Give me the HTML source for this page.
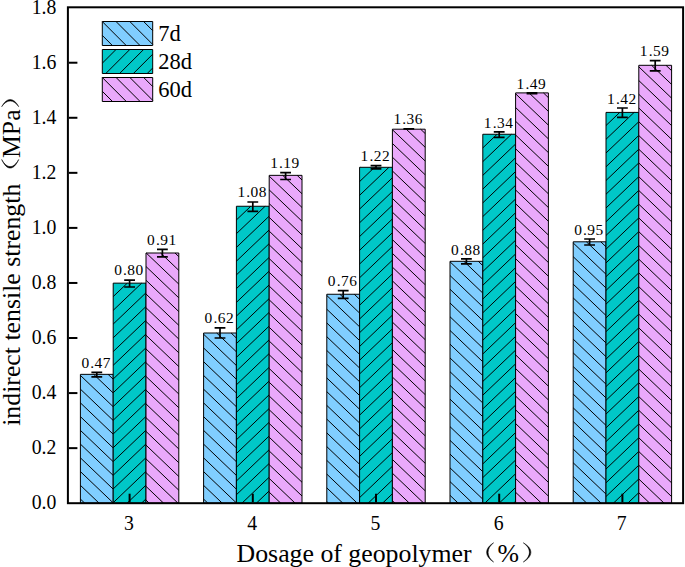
<!DOCTYPE html>
<html><head><meta charset="utf-8"><style>
html,body{margin:0;padding:0;background:#fff;overflow:hidden}
svg{display:block}
text{font-family:"Liberation Serif",serif;fill:#000}
</style></head><body>
<svg width="685" height="567" viewBox="0 0 685 567">
<rect x="80.40" y="374.35" width="32.80" height="128.85" fill="#80CEFF"/>
<path d="M108.09 374.35L113.20 379.23M93.70 374.35L113.20 392.97M80.40 375.39L113.20 406.71M80.40 389.13L113.20 420.45M80.40 402.87L113.20 434.19M80.40 416.61L113.20 447.93M80.40 430.35L113.20 461.67M80.40 444.09L113.20 475.41M80.40 457.83L113.20 489.15M80.40 471.57L113.20 502.89M80.40 485.31L99.14 503.20M80.40 499.05L84.75 503.20" stroke="#000" stroke-width="1.0" fill="none"/>
<rect x="80.40" y="374.35" width="32.80" height="128.85" fill="none" stroke="#000" stroke-width="1.0" stroke-linejoin="round"/>
<rect x="113.20" y="283.15" width="32.80" height="220.05" fill="#00C8C8"/>
<path d="M113.20 296.60L127.29 283.15M113.20 310.34L141.68 283.15M113.20 324.08L146.00 292.76M113.20 337.82L146.00 306.50M113.20 351.56L146.00 320.24M113.20 365.30L146.00 333.98M113.20 379.04L146.00 347.72M113.20 392.78L146.00 361.46M113.20 406.52L146.00 375.20M113.20 420.26L146.00 388.94M113.20 434.00L146.00 402.68M113.20 447.74L146.00 416.42M113.20 461.48L146.00 430.16M113.20 475.22L146.00 443.90M113.20 488.96L146.00 457.64M113.20 502.70L146.00 471.38M127.07 503.20L146.00 485.12M141.46 503.20L146.00 498.86" stroke="#000" stroke-width="1.0" fill="none"/>
<rect x="113.20" y="283.15" width="32.80" height="220.05" fill="none" stroke="#000" stroke-width="1.0" stroke-linejoin="round"/>
<rect x="146.00" y="253.00" width="32.80" height="250.20" fill="#EAA9FB"/>
<path d="M175.01 253.00L178.80 256.62M160.62 253.00L178.80 270.36M146.23 253.00L178.80 284.10M146.00 266.52L178.80 297.84M146.00 280.26L178.80 311.58M146.00 294.00L178.80 325.32M146.00 307.74L178.80 339.06M146.00 321.48L178.80 352.80M146.00 335.22L178.80 366.54M146.00 348.96L178.80 380.28M146.00 362.70L178.80 394.02M146.00 376.44L178.80 407.76M146.00 390.18L178.80 421.50M146.00 403.92L178.80 435.24M146.00 417.66L178.80 448.98M146.00 431.40L178.80 462.72M146.00 445.14L178.80 476.46M146.00 458.88L178.80 490.20M146.00 472.62L178.03 503.20M146.00 486.36L163.64 503.20M146.00 500.10L149.25 503.20" stroke="#000" stroke-width="1.0" fill="none"/>
<rect x="146.00" y="253.00" width="32.80" height="250.20" fill="none" stroke="#000" stroke-width="1.0" stroke-linejoin="round"/>
<rect x="203.60" y="333.00" width="32.80" height="170.20" fill="#80CEFF"/>
<path d="M231.10 333.00L236.40 338.06M216.71 333.00L236.40 351.80M203.60 334.22L236.40 365.54M203.60 347.96L236.40 379.28M203.60 361.70L236.40 393.02M203.60 375.44L236.40 406.76M203.60 389.18L236.40 420.50M203.60 402.92L236.40 434.24M203.60 416.66L236.40 447.98M203.60 430.40L236.40 461.72M203.60 444.14L236.40 475.46M203.60 457.88L236.40 489.20M203.60 471.62L236.40 502.94M203.60 485.36L222.28 503.20M203.60 499.10L207.89 503.20" stroke="#000" stroke-width="1.0" fill="none"/>
<rect x="203.60" y="333.00" width="32.80" height="170.20" fill="none" stroke="#000" stroke-width="1.0" stroke-linejoin="round"/>
<rect x="236.40" y="206.25" width="32.80" height="296.95" fill="#00C8C8"/>
<path d="M236.40 219.96L250.76 206.25M236.40 233.70L265.15 206.25M236.40 247.44L269.20 216.12M236.40 261.18L269.20 229.86M236.40 274.92L269.20 243.60M236.40 288.66L269.20 257.34M236.40 302.40L269.20 271.08M236.40 316.14L269.20 284.82M236.40 329.88L269.20 298.56M236.40 343.62L269.20 312.30M236.40 357.36L269.20 326.04M236.40 371.10L269.20 339.78M236.40 384.84L269.20 353.52M236.40 398.58L269.20 367.26M236.40 412.32L269.20 381.00M236.40 426.06L269.20 394.74M236.40 439.80L269.20 408.48M236.40 453.54L269.20 422.22M236.40 467.28L269.20 435.96M236.40 481.02L269.20 449.70M236.40 494.76L269.20 463.44M241.95 503.20L269.20 477.18M256.34 503.20L269.20 490.92" stroke="#000" stroke-width="1.0" fill="none"/>
<rect x="236.40" y="206.25" width="32.80" height="296.95" fill="none" stroke="#000" stroke-width="1.0" stroke-linejoin="round"/>
<rect x="269.20" y="175.35" width="32.80" height="327.85" fill="#EAA9FB"/>
<path d="M297.15 175.35L302.00 179.98M282.76 175.35L302.00 193.72M269.20 176.14L302.00 207.46M269.20 189.88L302.00 221.20M269.20 203.62L302.00 234.94M269.20 217.36L302.00 248.68M269.20 231.10L302.00 262.42M269.20 244.84L302.00 276.16M269.20 258.58L302.00 289.90M269.20 272.32L302.00 303.64M269.20 286.06L302.00 317.38M269.20 299.80L302.00 331.12M269.20 313.54L302.00 344.86M269.20 327.28L302.00 358.60M269.20 341.02L302.00 372.34M269.20 354.76L302.00 386.08M269.20 368.50L302.00 399.82M269.20 382.24L302.00 413.56M269.20 395.98L302.00 427.30M269.20 409.72L302.00 441.04M269.20 423.46L302.00 454.78M269.20 437.20L302.00 468.52M269.20 450.94L302.00 482.26M269.20 464.68L302.00 496.00M269.20 478.42L295.15 503.20M269.20 492.16L280.76 503.20" stroke="#000" stroke-width="1.0" fill="none"/>
<rect x="269.20" y="175.35" width="32.80" height="327.85" fill="none" stroke="#000" stroke-width="1.0" stroke-linejoin="round"/>
<rect x="326.80" y="294.25" width="32.80" height="208.95" fill="#80CEFF"/>
<path d="M354.27 294.25L359.60 299.34M339.88 294.25L359.60 313.08M326.80 295.50L359.60 326.82M326.80 309.24L359.60 340.56M326.80 322.98L359.60 354.30M326.80 336.72L359.60 368.04M326.80 350.46L359.60 381.78M326.80 364.20L359.60 395.52M326.80 377.94L359.60 409.26M326.80 391.68L359.60 423.00M326.80 405.42L359.60 436.74M326.80 419.16L359.60 450.48M326.80 432.90L359.60 464.22M326.80 446.64L359.60 477.96M326.80 460.38L359.60 491.70M326.80 474.12L357.26 503.20M326.80 487.86L342.87 503.20M326.80 501.60L328.48 503.20" stroke="#000" stroke-width="1.0" fill="none"/>
<rect x="326.80" y="294.25" width="32.80" height="208.95" fill="none" stroke="#000" stroke-width="1.0" stroke-linejoin="round"/>
<rect x="359.60" y="167.30" width="32.80" height="335.90" fill="#00C8C8"/>
<path d="M359.60 167.84L360.17 167.30M359.60 181.58L374.56 167.30M359.60 195.32L388.95 167.30M359.60 209.06L392.40 177.74M359.60 222.80L392.40 191.48M359.60 236.54L392.40 205.22M359.60 250.28L392.40 218.96M359.60 264.02L392.40 232.70M359.60 277.76L392.40 246.44M359.60 291.50L392.40 260.18M359.60 305.24L392.40 273.92M359.60 318.98L392.40 287.66M359.60 332.72L392.40 301.40M359.60 346.46L392.40 315.14M359.60 360.20L392.40 328.88M359.60 373.94L392.40 342.62M359.60 387.68L392.40 356.36M359.60 401.42L392.40 370.10M359.60 415.16L392.40 383.84M359.60 428.90L392.40 397.58M359.60 442.64L392.40 411.32M359.60 456.38L392.40 425.06M359.60 470.12L392.40 438.80M359.60 483.86L392.40 452.54M359.60 497.60L392.40 466.28M368.13 503.20L392.40 480.02M382.52 503.20L392.40 493.76" stroke="#000" stroke-width="1.0" fill="none"/>
<rect x="359.60" y="167.30" width="32.80" height="335.90" fill="none" stroke="#000" stroke-width="1.0" stroke-linejoin="round"/>
<rect x="392.40" y="129.20" width="32.80" height="374.00" fill="#EAA9FB"/>
<path d="M420.64 129.20L425.20 133.56M406.25 129.20L425.20 147.30M392.40 129.72L425.20 161.04M392.40 143.46L425.20 174.78M392.40 157.20L425.20 188.52M392.40 170.94L425.20 202.26M392.40 184.68L425.20 216.00M392.40 198.42L425.20 229.74M392.40 212.16L425.20 243.48M392.40 225.90L425.20 257.22M392.40 239.64L425.20 270.96M392.40 253.38L425.20 284.70M392.40 267.12L425.20 298.44M392.40 280.86L425.20 312.18M392.40 294.60L425.20 325.92M392.40 308.34L425.20 339.66M392.40 322.08L425.20 353.40M392.40 335.82L425.20 367.14M392.40 349.56L425.20 380.88M392.40 363.30L425.20 394.62M392.40 377.04L425.20 408.36M392.40 390.78L425.20 422.10M392.40 404.52L425.20 435.84M392.40 418.26L425.20 449.58M392.40 432.00L425.20 463.32M392.40 445.74L425.20 477.06M392.40 459.48L425.20 490.80M392.40 473.22L423.80 503.20M392.40 486.96L409.41 503.20M392.40 500.70L395.02 503.20" stroke="#000" stroke-width="1.0" fill="none"/>
<rect x="392.40" y="129.20" width="32.80" height="374.00" fill="none" stroke="#000" stroke-width="1.0" stroke-linejoin="round"/>
<rect x="450.00" y="261.30" width="32.80" height="241.90" fill="#80CEFF"/>
<path d="M478.29 261.30L482.80 265.61M463.90 261.30L482.80 279.35M450.00 261.77L482.80 293.09M450.00 275.51L482.80 306.83M450.00 289.25L482.80 320.57M450.00 302.99L482.80 334.31M450.00 316.73L482.80 348.05M450.00 330.47L482.80 361.79M450.00 344.21L482.80 375.53M450.00 357.95L482.80 389.27M450.00 371.69L482.80 403.01M450.00 385.43L482.80 416.75M450.00 399.17L482.80 430.49M450.00 412.91L482.80 444.23M450.00 426.65L482.80 457.97M450.00 440.39L482.80 471.71M450.00 454.13L482.80 485.45M450.00 467.87L482.80 499.19M450.00 481.61L472.61 503.20M450.00 495.35L458.22 503.20" stroke="#000" stroke-width="1.0" fill="none"/>
<rect x="450.00" y="261.30" width="32.80" height="241.90" fill="none" stroke="#000" stroke-width="1.0" stroke-linejoin="round"/>
<rect x="482.80" y="134.25" width="32.80" height="368.95" fill="#00C8C8"/>
<path d="M482.80 147.86L497.05 134.25M482.80 161.60L511.44 134.25M482.80 175.34L515.60 144.02M482.80 189.08L515.60 157.76M482.80 202.82L515.60 171.50M482.80 216.56L515.60 185.24M482.80 230.30L515.60 198.98M482.80 244.04L515.60 212.72M482.80 257.78L515.60 226.46M482.80 271.52L515.60 240.20M482.80 285.26L515.60 253.94M482.80 299.00L515.60 267.68M482.80 312.74L515.60 281.42M482.80 326.48L515.60 295.16M482.80 340.22L515.60 308.90M482.80 353.96L515.60 322.64M482.80 367.70L515.60 336.38M482.80 381.44L515.60 350.12M482.80 395.18L515.60 363.86M482.80 408.92L515.60 377.60M482.80 422.66L515.60 391.34M482.80 436.40L515.60 405.08M482.80 450.14L515.60 418.82M482.80 463.88L515.60 432.56M482.80 477.62L515.60 446.30M482.80 491.36L515.60 460.04M484.79 503.20L515.60 473.78M499.18 503.20L515.60 487.52M513.57 503.20L515.60 501.26" stroke="#000" stroke-width="1.0" fill="none"/>
<rect x="482.80" y="134.25" width="32.80" height="368.95" fill="none" stroke="#000" stroke-width="1.0" stroke-linejoin="round"/>
<rect x="515.60" y="92.90" width="32.80" height="410.30" fill="#EAA9FB"/>
<path d="M543.44 92.90L548.40 97.64M529.05 92.90L548.40 111.38M515.60 93.80L548.40 125.12M515.60 107.54L548.40 138.86M515.60 121.28L548.40 152.60M515.60 135.02L548.40 166.34M515.60 148.76L548.40 180.08M515.60 162.50L548.40 193.82M515.60 176.24L548.40 207.56M515.60 189.98L548.40 221.30M515.60 203.72L548.40 235.04M515.60 217.46L548.40 248.78M515.60 231.20L548.40 262.52M515.60 244.94L548.40 276.26M515.60 258.68L548.40 290.00M515.60 272.42L548.40 303.74M515.60 286.16L548.40 317.48M515.60 299.90L548.40 331.22M515.60 313.64L548.40 344.96M515.60 327.38L548.40 358.70M515.60 341.12L548.40 372.44M515.60 354.86L548.40 386.18M515.60 368.60L548.40 399.92M515.60 382.34L548.40 413.66M515.60 396.08L548.40 427.40M515.60 409.82L548.40 441.14M515.60 423.56L548.40 454.88M515.60 437.30L548.40 468.62M515.60 451.04L548.40 482.36M515.60 464.78L548.40 496.10M515.60 478.52L541.45 503.20M515.60 492.26L527.06 503.20" stroke="#000" stroke-width="1.0" fill="none"/>
<rect x="515.60" y="92.90" width="32.80" height="410.30" fill="none" stroke="#000" stroke-width="1.0" stroke-linejoin="round"/>
<rect x="573.20" y="241.80" width="32.80" height="261.40" fill="#80CEFF"/>
<path d="M600.79 241.80L606.00 246.78M586.40 241.80L606.00 260.52M573.20 242.94L606.00 274.26M573.20 256.68L606.00 288.00M573.20 270.42L606.00 301.74M573.20 284.16L606.00 315.48M573.20 297.90L606.00 329.22M573.20 311.64L606.00 342.96M573.20 325.38L606.00 356.70M573.20 339.12L606.00 370.44M573.20 352.86L606.00 384.18M573.20 366.60L606.00 397.92M573.20 380.34L606.00 411.66M573.20 394.08L606.00 425.40M573.20 407.82L606.00 439.14M573.20 421.56L606.00 452.88M573.20 435.30L606.00 466.62M573.20 449.04L606.00 480.36M573.20 462.78L606.00 494.10M573.20 476.52L601.14 503.20M573.20 490.26L586.75 503.20" stroke="#000" stroke-width="1.0" fill="none"/>
<rect x="573.20" y="241.80" width="32.80" height="261.40" fill="none" stroke="#000" stroke-width="1.0" stroke-linejoin="round"/>
<rect x="606.00" y="112.40" width="32.80" height="390.80" fill="#00C8C8"/>
<path d="M606.00 125.53L619.75 112.40M606.00 139.27L634.14 112.40M606.00 153.01L638.80 121.69M606.00 166.75L638.80 135.43M606.00 180.49L638.80 149.17M606.00 194.23L638.80 162.91M606.00 207.97L638.80 176.65M606.00 221.71L638.80 190.39M606.00 235.45L638.80 204.13M606.00 249.19L638.80 217.87M606.00 262.93L638.80 231.61M606.00 276.67L638.80 245.35M606.00 290.41L638.80 259.09M606.00 304.15L638.80 272.83M606.00 317.89L638.80 286.57M606.00 331.63L638.80 300.31M606.00 345.37L638.80 314.05M606.00 359.11L638.80 327.79M606.00 372.85L638.80 341.53M606.00 386.59L638.80 355.27M606.00 400.33L638.80 369.01M606.00 414.07L638.80 382.75M606.00 427.81L638.80 396.49M606.00 441.55L638.80 410.23M606.00 455.29L638.80 423.97M606.00 469.03L638.80 437.71M606.00 482.77L638.80 451.45M606.00 496.51L638.80 465.19M613.38 503.20L638.80 478.93M627.77 503.20L638.80 492.67" stroke="#000" stroke-width="1.0" fill="none"/>
<rect x="606.00" y="112.40" width="32.80" height="390.80" fill="none" stroke="#000" stroke-width="1.0" stroke-linejoin="round"/>
<rect x="638.80" y="65.30" width="32.80" height="437.90" fill="#EAA9FB"/>
<path d="M665.99 65.30L671.60 70.66M651.60 65.30L671.60 84.40M638.80 66.82L671.60 98.14M638.80 80.56L671.60 111.88M638.80 94.30L671.60 125.62M638.80 108.04L671.60 139.36M638.80 121.78L671.60 153.10M638.80 135.52L671.60 166.84M638.80 149.26L671.60 180.58M638.80 163.00L671.60 194.32M638.80 176.74L671.60 208.06M638.80 190.48L671.60 221.80M638.80 204.22L671.60 235.54M638.80 217.96L671.60 249.28M638.80 231.70L671.60 263.02M638.80 245.44L671.60 276.76M638.80 259.18L671.60 290.50M638.80 272.92L671.60 304.24M638.80 286.66L671.60 317.98M638.80 300.40L671.60 331.72M638.80 314.14L671.60 345.46M638.80 327.88L671.60 359.20M638.80 341.62L671.60 372.94M638.80 355.36L671.60 386.68M638.80 369.10L671.60 400.42M638.80 382.84L671.60 414.16M638.80 396.58L671.60 427.90M638.80 410.32L671.60 441.64M638.80 424.06L671.60 455.38M638.80 437.80L671.60 469.12M638.80 451.54L671.60 482.86M638.80 465.28L671.60 496.60M638.80 479.02L664.12 503.20M638.80 492.76L649.73 503.20" stroke="#000" stroke-width="1.0" fill="none"/>
<rect x="638.80" y="65.30" width="32.80" height="437.90" fill="none" stroke="#000" stroke-width="1.0" stroke-linejoin="round"/>
<path d="M96.80 372.30 V376.80 M91.40 372.30 H102.20 M91.40 376.80 H102.20" stroke="#000" stroke-width="1.7" fill="none"/>
<path d="M129.60 280.10 V287.00 M124.20 280.10 H135.00 M124.20 287.00 H135.00" stroke="#000" stroke-width="1.7" fill="none"/>
<path d="M162.40 249.30 V256.90 M157.00 249.30 H167.80 M157.00 256.90 H167.80" stroke="#000" stroke-width="1.7" fill="none"/>
<path d="M220.00 327.80 V338.00 M214.60 327.80 H225.40 M214.60 338.00 H225.40" stroke="#000" stroke-width="1.7" fill="none"/>
<path d="M252.80 202.00 V211.40 M247.40 202.00 H258.20 M247.40 211.40 H258.20" stroke="#000" stroke-width="1.7" fill="none"/>
<path d="M285.60 172.60 V179.50 M280.20 172.60 H291.00 M280.20 179.50 H291.00" stroke="#000" stroke-width="1.7" fill="none"/>
<path d="M343.20 290.70 V298.40 M337.80 290.70 H348.60 M337.80 298.40 H348.60" stroke="#000" stroke-width="1.7" fill="none"/>
<path d="M376.00 165.65 V168.85 M370.60 165.65 H381.40 M370.60 168.85 H381.40" stroke="#000" stroke-width="1.7" fill="none"/>
<path d="M408.80 128.90 V128.90 M403.40 128.90 H414.20 M403.40 128.90 H414.20" stroke="#000" stroke-width="1.7" fill="none"/>
<path d="M466.40 258.90 V263.90 M461.00 258.90 H471.80 M461.00 263.90 H471.80" stroke="#000" stroke-width="1.7" fill="none"/>
<path d="M499.20 131.90 V137.40 M493.80 131.90 H504.60 M493.80 137.40 H504.60" stroke="#000" stroke-width="1.7" fill="none"/>
<path d="M532.00 92.85 V93.75 M526.60 92.85 H537.40 M526.60 93.75 H537.40" stroke="#000" stroke-width="1.7" fill="none"/>
<path d="M589.60 239.00 V245.00 M584.20 239.00 H595.00 M584.20 245.00 H595.00" stroke="#000" stroke-width="1.7" fill="none"/>
<path d="M622.40 108.00 V117.40 M617.00 108.00 H627.80 M617.00 117.40 H627.80" stroke="#000" stroke-width="1.7" fill="none"/>
<path d="M655.20 60.70 V70.90 M649.80 60.70 H660.60 M649.80 70.90 H660.60" stroke="#000" stroke-width="1.7" fill="none"/>
<text x="95.95" y="367.90" font-size="15.4" text-anchor="middle" dx="0 1.2 0.4 0.55">0.47</text>
<text x="128.75" y="274.85" font-size="15.4" text-anchor="middle" dx="0 1.2 0.4 0.55">0.80</text>
<text x="161.55" y="244.70" font-size="15.4" text-anchor="middle" dx="0 1.2 0.4 0.55">0.91</text>
<text x="219.15" y="323.20" font-size="15.4" text-anchor="middle" dx="0 1.2 0.4 0.55">0.62</text>
<text x="251.95" y="196.60" font-size="15.4" text-anchor="middle" dx="0 1.2 0.4 0.55">1.08</text>
<text x="284.75" y="167.70" font-size="15.4" text-anchor="middle" dx="0 1.2 0.4 0.55">1.19</text>
<text x="342.35" y="286.40" font-size="15.4" text-anchor="middle" dx="0 1.2 0.4 0.55">0.76</text>
<text x="375.15" y="160.80" font-size="15.4" text-anchor="middle" dx="0 1.2 0.4 0.55">1.22</text>
<text x="407.95" y="123.80" font-size="15.4" text-anchor="middle" dx="0 1.2 0.4 0.55">1.36</text>
<text x="465.55" y="254.60" font-size="15.4" text-anchor="middle" dx="0 1.2 0.4 0.55">0.88</text>
<text x="498.35" y="127.60" font-size="15.4" text-anchor="middle" dx="0 1.2 0.4 0.55">1.34</text>
<text x="531.15" y="88.50" font-size="15.4" text-anchor="middle" dx="0 1.2 0.4 0.55">1.49</text>
<text x="588.75" y="234.70" font-size="15.4" text-anchor="middle" dx="0 1.2 0.4 0.55">0.95</text>
<text x="621.55" y="103.90" font-size="15.4" text-anchor="middle" dx="0 1.2 0.4 0.55">1.42</text>
<text x="654.35" y="56.40" font-size="15.4" text-anchor="middle" dx="0 1.2 0.4 0.55">1.59</text>
<rect x="67.9" y="7.3" width="615.2" height="495.9" fill="none" stroke="#000" stroke-width="2"/>
<text transform="translate(56.3 509.20) scale(0.94 1)" font-size="21" text-anchor="end">0.0</text>
<path d="M68.9 448.14 H77.4" stroke="#000" stroke-width="2"/>
<text transform="translate(56.3 454.14) scale(0.94 1)" font-size="21" text-anchor="end">0.2</text>
<path d="M68.9 393.08 H77.4" stroke="#000" stroke-width="2"/>
<text transform="translate(56.3 399.08) scale(0.94 1)" font-size="21" text-anchor="end">0.4</text>
<path d="M68.9 338.02 H77.4" stroke="#000" stroke-width="2"/>
<text transform="translate(56.3 344.02) scale(0.94 1)" font-size="21" text-anchor="end">0.6</text>
<path d="M68.9 282.96 H77.4" stroke="#000" stroke-width="2"/>
<text transform="translate(56.3 288.96) scale(0.94 1)" font-size="21" text-anchor="end">0.8</text>
<path d="M68.9 227.90 H77.4" stroke="#000" stroke-width="2"/>
<text transform="translate(56.3 233.90) scale(0.94 1)" font-size="21" text-anchor="end">1.0</text>
<path d="M68.9 172.84 H77.4" stroke="#000" stroke-width="2"/>
<text transform="translate(56.3 178.84) scale(0.94 1)" font-size="21" text-anchor="end">1.2</text>
<path d="M68.9 117.78 H77.4" stroke="#000" stroke-width="2"/>
<text transform="translate(56.3 123.78) scale(0.94 1)" font-size="21" text-anchor="end">1.4</text>
<path d="M68.9 62.72 H77.4" stroke="#000" stroke-width="2"/>
<text transform="translate(56.3 68.72) scale(0.94 1)" font-size="21" text-anchor="end">1.6</text>
<text transform="translate(56.3 13.66) scale(0.94 1)" font-size="21" text-anchor="end">1.8</text>
<path d="M129.60 502.20 V493.70" stroke="#000" stroke-width="2"/>
<text transform="translate(129.00 530) scale(0.94 1)" font-size="21" text-anchor="middle">3</text>
<path d="M252.80 502.20 V493.70" stroke="#000" stroke-width="2"/>
<text transform="translate(252.20 530) scale(0.94 1)" font-size="21" text-anchor="middle">4</text>
<path d="M376.00 502.20 V493.70" stroke="#000" stroke-width="2"/>
<text transform="translate(375.40 530) scale(0.94 1)" font-size="21" text-anchor="middle">5</text>
<path d="M499.20 502.20 V493.70" stroke="#000" stroke-width="2"/>
<text transform="translate(498.60 530) scale(0.94 1)" font-size="21" text-anchor="middle">6</text>
<path d="M622.40 502.20 V493.70" stroke="#000" stroke-width="2"/>
<text transform="translate(621.80 530) scale(0.94 1)" font-size="21" text-anchor="middle">7</text>
<rect x="102.3" y="21.5" width="50.4" height="24.0" fill="#80CEFF"/>
<path d="M143.60 21.50L152.70 30.60M129.80 21.50L152.70 44.40M116.00 21.50L140.00 45.50M102.30 21.60L126.20 45.50M102.30 35.40L112.40 45.50" stroke="#000" stroke-width="1.0" fill="none"/>
<rect x="102.3" y="21.5" width="50.4" height="24.0" fill="none" stroke="#000" stroke-width="1.0" stroke-linejoin="round"/>
<text x="158.2" y="40.8" font-size="22.5">7d</text>
<rect x="102.3" y="49.5" width="50.4" height="24.0" fill="#00C8C8"/>
<path d="M102.30 63.20L116.00 49.50M105.80 73.50L129.80 49.50M119.60 73.50L143.60 49.50M133.40 73.50L152.70 54.20M147.20 73.50L152.70 68.00" stroke="#000" stroke-width="1.0" fill="none"/>
<rect x="102.3" y="49.5" width="50.4" height="24.0" fill="none" stroke="#000" stroke-width="1.0" stroke-linejoin="round"/>
<text x="158.2" y="68.8" font-size="22.5">28d</text>
<rect x="102.3" y="77.5" width="50.4" height="24.0" fill="#EAA9FB"/>
<path d="M143.70 77.50L152.70 86.50M129.90 77.50L152.70 100.30M116.10 77.50L140.10 101.50M102.30 77.50L126.30 101.50M102.30 91.30L112.50 101.50" stroke="#000" stroke-width="1.0" fill="none"/>
<rect x="102.3" y="77.5" width="50.4" height="24.0" fill="none" stroke="#000" stroke-width="1.0" stroke-linejoin="round"/>
<text x="158.2" y="96.8" font-size="22.5">60d</text>
<text x="236.6" y="561.8" font-size="25.8">Dosage of geopolymer</text>
<text x="497.4" y="561.8" font-size="25.8">%</text>
<path d="M493.60 542.80 C484.27 548.56 484.27 556.24 493.60 562.00 C486.27 556.24 486.27 548.56 493.60 542.80Z" fill="#000" stroke="#000" stroke-width="0.5"/>
<path d="M523.30 542.80 C533.43 548.56 533.43 556.24 523.30 562.00 C531.43 556.24 531.43 548.56 523.30 542.80Z" fill="#000" stroke="#000" stroke-width="0.5"/>
<g transform="translate(20.4 425.8) rotate(-90)"><text x="0" y="0" font-size="25.8">indirect tensile strength</text><text x="267.7" y="0" font-size="25.8">MPa</text><path d="M266.30 -18.70 C254.83 -13.60 254.83 -6.80 266.30 -1.70 C256.83 -6.80 256.83 -13.60 266.30 -18.70Z" fill="#000" stroke="#000" stroke-width="0.5"/><path d="M319.10 -18.70 C328.70 -13.60 328.70 -6.80 319.10 -1.70 C326.70 -6.80 326.70 -13.60 319.10 -18.70Z" fill="#000" stroke="#000" stroke-width="0.5"/></g>
</svg></body></html>
